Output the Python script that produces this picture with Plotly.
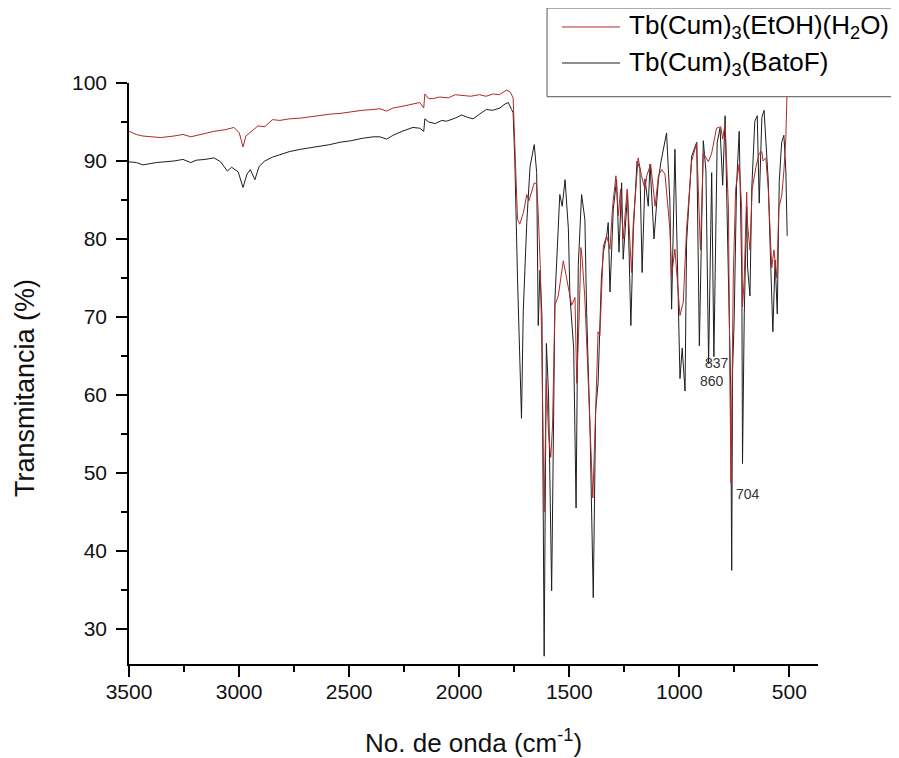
import plotly.graph_objects as go

# Wavenumbers (cm-1) and transmittance (%)
red_x = [3500, 3467, 3437, 3400, 3356, 3296, 3255, 3219, 3175, 3114, 3064, 3023, 2999, 2982, 2969, 2944,
         2914, 2883, 2848, 2815, 2772, 2720, 2672, 2621, 2588, 2541, 2491, 2441, 2391, 2360, 2330, 2300,
         2260, 2210, 2179, 2161, 2156, 2139, 2118, 2089, 2049, 2018, 1982, 1948, 1908, 1878, 1845, 1817,
         1785, 1767, 1755, 1747, 1735, 1725, 1708, 1693, 1683, 1659, 1648, 1641, 1631, 1624, 1614, 1604,
         1594, 1584, 1576, 1565, 1550, 1527, 1504, 1489, 1474, 1466, 1455, 1447, 1441, 1429, 1414, 1400,
         1393, 1380, 1369, 1361, 1345, 1330, 1315, 1303, 1288, 1277, 1267, 1255, 1237, 1217, 1209, 1187,
         1172, 1156, 1148, 1130, 1118, 1110, 1095, 1080, 1065, 1043, 1035, 1020, 997, 982, 967, 944,
         921, 904, 891, 868, 853, 831, 812, 803, 792, 777, 770, 765, 760, 755, 744, 728,
         717, 713, 705, 694, 690, 679, 669, 652, 637, 625, 620, 607, 596, 580, 570, 557,
         548, 535, 525, 516, 510]
red_y = [93.8, 93.4, 93.2, 93.1, 93.0, 93.2, 93.4, 93.1, 93.4, 93.8, 94.0, 94.3, 93.6, 91.8, 93.2, 93.8,
         94.5, 94.4, 95.3, 95.2, 95.4, 95.5, 95.7, 95.9, 96.0, 96.1, 96.3, 96.5, 96.6, 96.7, 96.4, 96.8,
         97.0, 97.3, 97.5, 96.8, 98.6, 98.0, 98.0, 98.2, 98.1, 98.5, 98.4, 98.3, 98.5, 98.3, 98.6, 98.5,
         99.1, 98.8, 98.1, 91.9, 82.5, 81.9, 83.4, 85.7, 84.9, 87.2, 87.0, 83.4, 76.0, 65.0, 45.0, 62.0,
         55.0, 52.0, 56.0, 71.5, 72.7, 77.2, 74.0, 71.5, 72.5, 61.5, 70.0, 78.9, 77.4, 72.3, 62.0, 50.0,
         46.8, 58.0, 68.1, 67.6, 79.1, 80.4, 78.7, 84.2, 88.1, 83.0, 86.4, 80.0, 86.4, 75.7, 82.1, 90.4,
         88.1, 86.4, 88.1, 89.6, 86.4, 84.2, 88.1, 88.9, 88.3, 81.3, 75.3, 78.7, 70.2, 71.9, 81.3, 90.0,
         92.3, 78.6, 91.0, 89.9, 91.0, 94.2, 94.4, 92.8, 94.8, 84.1, 61.3, 48.7, 62.0, 75.0, 86.4, 89.6,
         84.1, 71.3, 75.0, 86.0, 81.9, 78.6, 86.4, 89.2, 91.0, 91.2, 90.0, 90.4, 86.4, 76.3, 78.6, 75.0,
         84.0, 85.5, 88.7, 93.0, 99.5]

black_x = [3500, 3467, 3437, 3417, 3376, 3336, 3296, 3255, 3219, 3195, 3155, 3114, 3084, 3053, 3034, 3004,
           2982, 2964, 2949, 2928, 2909, 2883, 2848, 2815, 2772, 2720, 2672, 2632, 2588, 2541, 2491, 2441,
           2391, 2360, 2330, 2300, 2260, 2210, 2179, 2161, 2156, 2139, 2109, 2079, 2058, 2018, 1989, 1963,
           1937, 1908, 1877, 1847, 1815, 1792, 1777, 1762, 1755, 1747, 1735, 1717, 1709, 1693, 1678, 1659,
           1648, 1641, 1633, 1624, 1614, 1604, 1594, 1580, 1565, 1543, 1532, 1519, 1504, 1497, 1489, 1480,
           1469, 1459, 1444, 1429, 1421, 1405, 1391, 1380, 1369, 1361, 1354, 1345, 1330, 1323, 1315, 1300,
           1285, 1274, 1262, 1255, 1235, 1220, 1209, 1192, 1179, 1169, 1156, 1141, 1133, 1115, 1095, 1084,
           1058, 1043, 1035, 1020, 1009, 997, 987, 974, 967, 944, 921, 909, 891, 879, 867, 853,
           843, 828, 815, 803, 792, 777, 767, 762, 758, 751, 740, 728, 716, 713, 705, 694,
           690, 679, 671, 657, 646, 637, 625, 615, 603, 596, 588, 575, 565, 555, 546, 535,
           525, 516, 510]
black_y = [89.9, 89.8, 89.5, 89.6, 89.8, 89.9, 90.0, 90.2, 89.8, 90.1, 90.2, 90.4, 89.9, 88.7, 89.2, 88.6,
           86.6, 88.3, 88.9, 87.6, 89.3, 90.0, 90.5, 90.8, 91.2, 91.5, 91.7, 91.9, 92.1, 92.4, 92.6, 92.9,
           93.1, 93.1, 92.8, 93.3, 93.8, 94.3, 94.2, 93.8, 95.4, 95.0, 94.8, 95.2, 95.1, 95.5, 95.9, 95.6,
           95.4, 96.0, 96.6, 96.5, 96.8, 97.3, 97.5, 96.6, 96.2, 89.8, 74.9, 57.0, 70.7, 82.1, 89.3, 92.1,
           88.5, 68.9, 76.0, 70.0, 26.5, 66.6, 60.0, 34.9, 72.3, 85.7, 84.2, 87.6, 81.3, 72.7, 68.9, 66.0,
           45.5, 76.6, 85.7, 82.5, 70.6, 55.0, 34.0, 58.0, 61.5, 70.0, 74.9, 78.3, 80.4, 82.1, 73.2, 83.8,
           87.6, 78.3, 87.2, 77.4, 85.9, 68.9, 81.0, 90.0, 89.0, 75.7, 87.7, 84.2, 89.6, 80.0, 87.6, 89.8,
           93.6, 85.0, 71.0, 91.5, 77.9, 62.1, 66.0, 60.5, 79.6, 90.6, 92.4, 66.3, 92.6, 88.7, 64.0, 88.5,
           64.9, 92.4, 94.2, 86.9, 95.8, 73.2, 61.3, 37.5, 63.1, 69.5, 86.9, 93.8, 75.0, 51.2, 70.4, 84.1,
           76.4, 72.7, 86.4, 95.1, 95.8, 84.6, 95.6, 96.5, 91.0, 87.4, 79.6, 68.1, 77.3, 70.4, 87.4, 92.4,
           93.3, 88.7, 80.4]

series_names = ["Tb(Cum)<sub>3</sub>(EtOH)(H<sub>2</sub>O)", "Tb(Cum)<sub>3</sub>(BatoF)"]
series_colors = ["#b02a2a", "#1e1e1e"]

peak_labels = ["837", "860", "704"]
peak_label_x = [830, 853, 690]
peak_label_y = [64.1, 61.8, 47.3]

x_ticks = [3500, 3000, 2500, 2000, 1500, 1000, 500]
y_ticks = [30, 40, 50, 60, 70, 80, 90, 100]

FONT = "Arial, Liberation Sans, sans-serif"

fig = go.Figure()
fig.add_trace(go.Scatter(x=black_x, y=black_y, mode="lines", name=series_names[1],
                         line=dict(color=series_colors[1], width=1), showlegend=False))
fig.add_trace(go.Scatter(x=red_x, y=red_y, mode="lines", name=series_names[0],
                         line=dict(color=series_colors[0], width=1), showlegend=False))

for t, xv, yv in zip(peak_labels, peak_label_x, peak_label_y):
    fig.add_annotation(x=xv, y=yv, text=t, showarrow=False, xanchor="center", yanchor="middle",
                       font=dict(family=FONT, size=14, color="#333333"))

# custom legend box (paper coordinates)
L, R, T, B = 0.6067, 1.1147, 1.1291, 0.9764
fig.add_shape(type="rect", xref="paper", yref="paper", x0=L, x1=R, y0=B, y1=T,
              line=dict(color="#555555", width=1), fillcolor="white", layer="above")
rows_y = [1.0964, 1.0344]
for name, col, ry in zip(series_names, series_colors, rows_y):
    fig.add_shape(type="line", xref="paper", yref="paper", x0=0.6284, x1=0.7126, y0=ry, y1=ry,
                  line=dict(color=col, width=1), layer="above")
    fig.add_annotation(xref="paper", yref="paper", x=0.7228, y=ry, text=name, showarrow=False,
                       xanchor="left", yanchor="middle", font=dict(family=FONT, size=26, color="black"))

# axis titles
fig.add_annotation(xref="paper", yref="paper", x=-0.151, y=0.475, text="Transmitancia (%)",
                   textangle=-90, showarrow=False, xanchor="center", yanchor="middle",
                   font=dict(family=FONT, size=27, color="#111111"))
fig.add_annotation(xref="paper", yref="paper", x=0.5, y=-0.134, text="No. de onda (cm<sup>-1</sup>)",
                   showarrow=False, xanchor="center", yanchor="middle",
                   font=dict(family=FONT, size=26, color="#111111"))

# page body adds an 8 px offset, so the figure is 8 px smaller and margins are reduced by 8 px
fig.update_layout(
    width=891, height=750,
    margin=dict(l=121, r=81, t=75, b=94),
    paper_bgcolor="white", plot_bgcolor="white",
    showlegend=False,
    font=dict(family=FONT, color="black"),
)
fig.update_xaxes(
    range=[3500, 370], tickvals=x_ticks, ticks="outside", ticklen=11, tickwidth=1.5, tickcolor="black",
    showline=True, linecolor="black", linewidth=1.5, showgrid=False, zeroline=False, mirror=False,
    tickfont=dict(family=FONT, size=21, color="#111111"), ticklabelstandoff=-3, automargin=False,
    minor=dict(tickvals=[3250, 2750, 2250, 1750, 1250, 750], ticks="outside", ticklen=6,
               tickwidth=1.5, tickcolor="black", showgrid=False),
)
fig.update_yaxes(
    range=[25.5, 100], tickvals=y_ticks, ticks="outside", ticklen=11, tickwidth=1.5, tickcolor="black",
    showline=True, linecolor="black", linewidth=1.5, showgrid=False, zeroline=False, mirror=False,
    tickfont=dict(family=FONT, size=21, color="#111111"), ticklabelstandoff=5, automargin=False,
    minor=dict(tickvals=[35, 45, 55, 65, 75, 85, 95], ticks="outside", ticklen=6,
               tickwidth=1.5, tickcolor="black", showgrid=False),
)

fig.write_html("out.html")
